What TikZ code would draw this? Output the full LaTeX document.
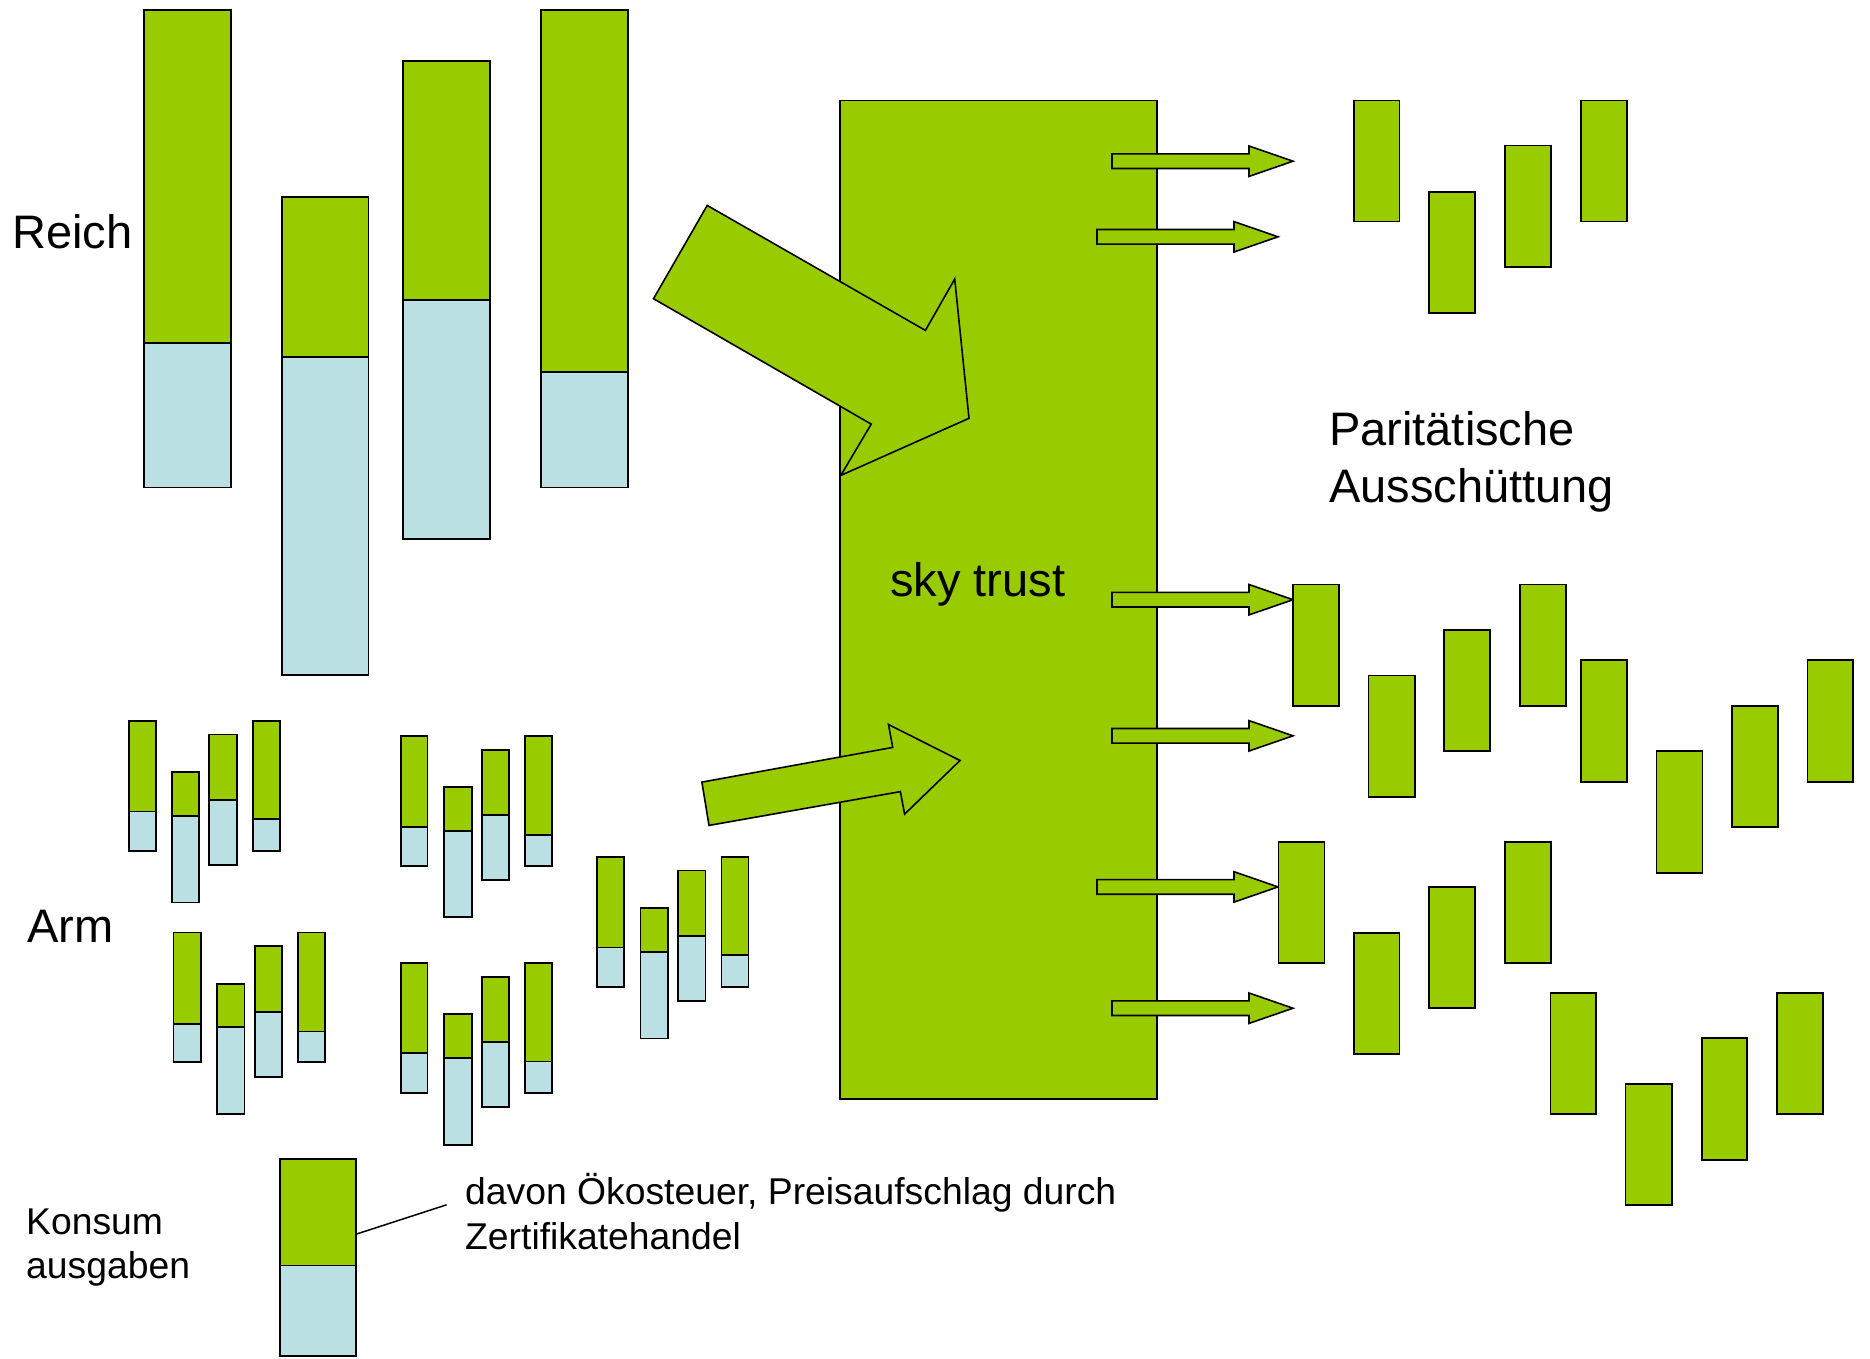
\documentclass[tikz,border=0pt]{standalone}
\usepackage{fontspec}
\setmainfont{Liberation Sans}
\definecolor{skygreen}{HTML}{99CC00}
\definecolor{skyblue}{HTML}{BBE0E3}
\newcommand{\stackbar}[5]{%
  \draw[greenpart] (#1,#3) rectangle (#2,#4);
  \draw[bluepart] (#1,#4) rectangle (#2,#5);}
\newcommand{\gbar}[4]{\draw[greenpart] (#1,#3) rectangle (#2,#4);}
\newcommand{\outarrow}[4]{%
  \draw[blockarrow] (#1,#4-7.3) -- (#2,#4-7.3) -- (#2,#4-15.2) -- (#3,#4)
    -- (#2,#4+15.2) -- (#2,#4+7.3) -- (#1,#4+7.3) -- cycle;}
\begin{document}
\begin{tikzpicture}[x=1pt,y=-1pt,
  greenpart/.style={draw=black,fill=skygreen,line width=1.8pt},
  bluepart/.style={draw=black,fill=skyblue,line width=1.8pt},
  blockarrow/.style={draw=black,fill=skygreen,line width=1.6pt,line join=miter},
  bigtext/.style={anchor=base west,inner sep=0pt,font=\fontsize{47}{57}\selectfont},
  smalltext/.style={anchor=base west,inner sep=0pt,font=\fontsize{37.3}{44}\selectfont}]
\useasboundingbox (0,0) rectangle (1870,1358);

% Reich bars
\stackbar{143.7}{230.8}{9.8}{342.9}{487.5}
\stackbar{282}{368.5}{196.9}{357.1}{675}
\stackbar{403}{489.6}{60.7}{299.6}{538.8}
\stackbar{540.8}{627.9}{9.8}{372.3}{487.5}

% Arm bars, group 1
\stackbar{128.8}{155.6}{721}{811.5}{851}
\stackbar{171.7}{198.6}{771.7}{815.9}{902.5}
\stackbar{209.3}{236.7}{734.4}{799.8}{865.2}
\stackbar{252.8}{279.7}{721}{819.3}{851}
% group 2
\stackbar{400.7}{427.5}{735.7}{826.7}{866.1}
\stackbar{444.2}{471.7}{786.8}{830.6}{917.2}
\stackbar{481.8}{508.6}{749.6}{815}{880}
\stackbar{524.7}{552.2}{735.7}{834.9}{866.1}
% group 3
\stackbar{173.5}{201}{932.4}{1023.7}{1062.3}
\stackbar{217}{244.5}{983.9}{1027.2}{1113.8}
\stackbar{254.6}{282}{946.2}{1011.6}{1076.6}
\stackbar{298.2}{325}{932.4}{1031.5}{1062.3}
% group 4
\stackbar{400.7}{427.5}{963.1}{1053.2}{1093}
\stackbar{444.2}{471.7}{1013.8}{1058}{1144.6}
\stackbar{481.8}{508.6}{977}{1041.9}{1107.3}
\stackbar{524.7}{552.2}{963.1}{1061.4}{1093}
% group 5
\stackbar{596.9}{624.3}{856.6}{947.5}{986.9}
\stackbar{640.4}{667.9}{908.1}{951.8}{1038.5}
\stackbar{678}{705.4}{870.4}{935.8}{1001.2}
\stackbar{721.5}{748.4}{856.6}{955.3}{986.9}

% legend bar
\stackbar{280.3}{356}{1159.3}{1265.4}{1355.9}
\coordinate (legendbar) at (356,1234.2);
\coordinate (legendtext) at (446.6,1204.8);
\draw[line width=1.5pt] (legendbar) -- (legendtext);

% sky trust
\draw[greenpart,line width=1.6pt] (840,100.4) rectangle (1157,1098.7);
\node[bigtext] (trust) at (890,596) {sky trust};

% big arrows
\draw[blockarrow] (707.2,205.4) -- (925.4,330.4) -- (954.7,279) -- (969,418.3)
  -- (840.8,475.4) -- (871.2,424.1) -- (653.5,298.7) -- cycle;
\draw[blockarrow] (701.9,782.1) -- (892.7,747.4) -- (888.5,724.5) -- (960,760.5)
  -- (904.6,814.1) -- (900.4,791.6) -- (709,825.4) -- cycle;

% outgoing arrows
\outarrow{1112}{1249}{1293}{161.2}
\outarrow{1097}{1234}{1278}{236.8}
\outarrow{1112}{1249}{1293}{599.7}
\outarrow{1112}{1249}{1293}{735.8}
\outarrow{1097}{1234}{1278}{886.9}
\outarrow{1112}{1249}{1293}{1008.2}

% distribution bars, top group
\gbar{1353.6}{1399.5}{100.4}{221.4}
\gbar{1429.3}{1475.2}{192}{313}
\gbar{1505}{1551}{145.5}{267}
\gbar{1580.8}{1626.7}{100.4}{221.4}
% middle group
\gbar{1292.8}{1339.3}{584.4}{705.9}
\gbar{1368.5}{1415}{675.4}{796.8}
\gbar{1444.2}{1490.2}{629.9}{750.9}
\gbar{1520}{1566}{584.4}{705.9}
\gbar{1580.8}{1626.7}{659.8}{781.6}
\gbar{1656.5}{1702.4}{751.3}{872.6}
\gbar{1731.7}{1777.6}{705.9}{826.7}
\gbar{1807.4}{1853.3}{659.8}{781.6}
% bottom group
\gbar{1278.5}{1324.4}{841.8}{962.7}
\gbar{1354.2}{1399.5}{932.8}{1053.6}
\gbar{1429.3}{1475.2}{886.9}{1008.1}
\gbar{1505}{1551}{841.8}{962.7}
\gbar{1550.4}{1595.7}{993}{1114.2}
\gbar{1625.5}{1672}{1084}{1205.2}
\gbar{1701.8}{1747.2}{1038}{1159.7}
\gbar{1777}{1822.9}{993}{1114.2}

% texts
\node[bigtext] (reich) at (12,248) {Reich};
\node[bigtext] (arm) at (27,942) {Arm};
\node[bigtext] (parit) at (1329,445) {Paritätische};
\node[bigtext] (aussch) at (1329,502) {Ausschüttung};
\node[smalltext] (konsum) at (26,1234.6) {Konsum};
\node[smalltext] (ausgaben) at (26,1278.8) {ausgaben};
\node[smalltext] (davon) at (465,1204.3) {davon Ökosteuer, Preisaufschlag durch};
\node[smalltext] (zert) at (465,1249.8) {Zertifikatehandel};
\end{tikzpicture}
\end{document}
